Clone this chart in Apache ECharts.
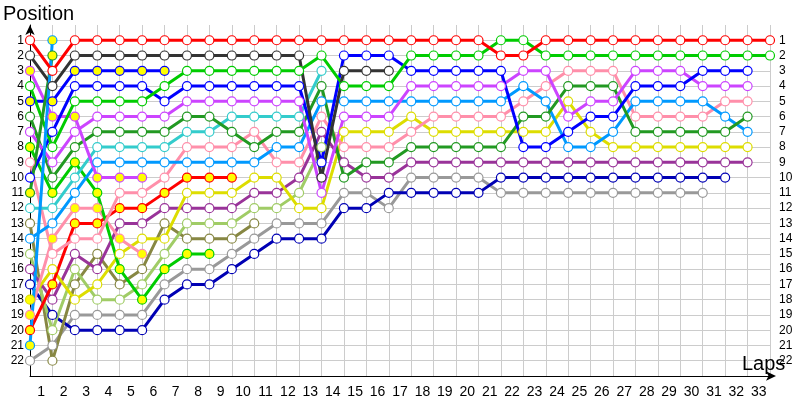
<!DOCTYPE html>
<html><head><meta charset="utf-8">
<script src="https://cdn.jsdelivr.net/npm/echarts@6/dist/echarts.min.js"></script>
<style>html,body{margin:0;padding:0;background:#fff}#c{width:800px;height:400px}</style>
</head><body><div id="c"></div>
<script>
// Tick labels
const lapLabels = ['1','2','3','4','5','6','7','8','9','10','11','12','13','14','15','16','17','18','19','20','21','22','23','24','25','26','27','28','29','30','31','32','33'];
const posLabels = [1,2,3,4,5,6,7,8,9,10,11,12,13,14,15,16,17,18,19,20,21,22];

// Positions per lap, starting at lap 0
const redA       = [1,3,1,1,1,1,1,1,1,1,1,1,1,1,1,1,1,1,1,1,1,2,2,1,1,1,1,1,1,1,1,1,1,1];
const greenA     = [4,8,5,5,5,5,4,3,3,3,3,3,3,2,4,4,4,2,2,2,2,1,1,2,2,2,2,2,2,2,2,2,2,2];
const darkGrayA  = [2,4,2,2,2,2,2,2,2,2,2,2,2,10,3,3,3];
const blueA      = [10,7,4,4,4,4,5,4,4,4,4,4,4,9,2,2,2,3,3,3,3,3,8,8,7,6,6,4,4,4,3,3,3];
const violetA    = [7,9,7,6,6,6,6,5,5,5,5,5,5,11,6,6,6,4,4,4,4,4,3,3,6,5,5,3,3,3,4,4,4];
const darkGreenA = [6,10,8,7,7,7,7,6,6,7,8,7,7,4,10,9,9,8,8,8,8,8,6,6,4,4,4,7,7,7,7,7,6];
const tealA      = [12,12,10,8,8,8,8,7,7,6,6,6,6,3];
const pinkA      = [9,15,14,14,11,11,10,8,8,8,7,9,9,6,8,8,8,7,6,6,6,6,5,4,3,3,3,6,6,6,6,5,5];
const lightBlueA = [14,13,11,9,9,9,9,9,9,9,9,8,8,5,5,5,5,5,5,5,5,5,4,5,8,8,7,5,5,5,5,6,7];
const yellowA    = [18,16,18,17,15,14,14,11,11,11,10,10,12,12,7,7,7,6,7,7,7,7,7,7,5,7,8,8,8,8,8,8,8];
const purpleA    = [16,18,15,16,13,13,12,12,12,12,11,11,10,7,9,10,10,9,9,9,9,9,9,9,9,9,9,9,9,9,9,9,9];
const darkBlueA  = [17,19,20,20,20,20,18,17,17,16,15,14,14,14,12,12,11,11,11,11,11,10,10,10,10,10,10,10,10,10,10,10];
const grayA      = [22,21,19,19,19,19,17,16,16,15,14,13,13,13,11,11,12,10,10,10,10,11,11,11,11,11,11,11,11,11,11];
const oliveA     = [13,22,17,15,17,16,13,14,14,14,13];
const lightGreenA= [15,20,16,18,18,17,15,13,13,13,12,12,11,8];
const greenB     = [8,11,9,11,16,18,16,15,15];
const redB       = [20,17,13,13,12,12,11,10,10,10];
const blueB      = [5,5,3,3,3,3,3];
const violetB    = [3,6,6,10,10,10];
const darkGreenB = [11,2];
const lightBlueB = [21,1];
const pinkB      = [19,14,12,12,14,15];

const drivers = [
  {d: grayA,       c:'#999999', f:'#ffffff'},
  {d: darkBlueA,   c:'#0000b4', f:'#ffffff'},
  {d: oliveA,      c:'#878743', f:'#ffffff'},
  {d: lightGreenA, c:'#a0cc66', f:'#ffffff'},
  {d: purpleA,     c:'#993399', f:'#ffffff'},
  {d: yellowA,     c:'#dddd00', f:'#ffffff', first:'#ffff00'},
  {d: pinkB,       c:'#ff8faa', f:'#ffff00'},
  {d: redB,        c:'#ff0000', f:'#ffff00'},
  {d: greenB,      c:'#00cc00', f:'#ffff00'},
  {d: pinkA,       c:'#ff8faa', f:'#ffffff'},
  {d: lightBlueA,  c:'#0099ff', f:'#ffffff'},
  {d: tealA,       c:'#33cccc', f:'#ffffff'},
  {d: darkGreenA,  c:'#229922', f:'#ffffff'},
  {d: violetB,     c:'#cc44ff', f:'#ffff00'},
  {d: violetA,     c:'#cc44ff', f:'#ffffff'},
  {d: blueB,       c:'#0000ff', f:'#ffff00'},
  {d: blueA,       c:'#0000ff', f:'#ffffff'},
  {d: greenA,      c:'#00cc00', f:'#ffffff'},
  {d: darkGreenB,  c:'#229922', f:'#ffff00'},
  {d: darkGrayA,   c:'#333333', f:'#ffffff'},
  {d: lightBlueB,  c:'#0099ff', f:'#ffff00'},
  {d: redA,        c:'#ff0000', f:'#ffffff'}
];

const FONT = '"Liberation Sans", Arial, sans-serif';
const chart = echarts.init(document.getElementById('c'), null, {renderer:'canvas'});

const series = drivers.map(dr => ({
  type: 'line',
  xAxisIndex: 0, yAxisIndex: 0,
  symbol: 'circle', symbolSize: 9,
  showAllSymbol: true,
  animation: false,
  lineStyle: {color: dr.c, width: 3},
  itemStyle: {color: dr.f, borderColor: dr.c, borderWidth: 1.2},
  emphasis: {disabled: true},
  data: dr.d.map((p, i) => (i === 0 && dr.first)
      ? {value: [i, p], itemStyle: {color: dr.first, borderColor: dr.c}}
      : [i, p])
}));

const splitColors = ['rgba(0,0,0,0)'].concat(posLabels.map(() => '#cccccc'));

chart.setOption({
  animation: false,
  grid: {left: 30, right: 30, top: 25, bottom: 24, containLabel: false},
  xAxis: [
    {type:'value', min:0, max:33, interval:1, position:'bottom',
     axisLine:{show:true, onZero:false, lineStyle:{color:'#000', width:1}, symbol:['none','arrow'], symbolSize:[7,10], symbolOffset:[0,6]},
     axisTick:{show:false}, axisLabel:{show:false},
     splitLine:{show:true, lineStyle:{color:'#cccccc', width:1}}},
    {type:'category', data: lapLabels, boundaryGap:true, position:'bottom',
     axisLine:{show:false, onZero:false}, axisTick:{show:false},
     axisLabel:{show:true, interval:0, margin:9, color:'#000', fontSize:14, fontFamily:FONT},
     splitLine:{show:false}}
  ],
  yAxis: [
    {type:'value', min:0, max:23, interval:1, inverse:true,
     axisLine:{show:true, onZero:false, lineStyle:{color:'#000', width:1}, symbol:['none','arrow'], symbolSize:[7,10]},
     axisTick:{show:false},
     axisLabel:{color:'#000', fontSize:12, fontFamily:FONT, margin:6,
       formatter: v => (v >= 1 && v <= 22) ? String(v) : ''},
     splitLine:{show:true, lineStyle:{color:splitColors, width:1}}},
    {type:'value', min:0, max:23, interval:1, inverse:true, position:'right',
     axisLine:{show:false}, axisTick:{show:false},
     axisLabel:{color:'#000', fontSize:12, fontFamily:FONT, margin:9,
       formatter: v => (v >= 1 && v <= 22) ? String(v) : ''},
     splitLine:{show:false}}
  ],
  graphic: [
    {type:'text', left:3, top:4, z:100, style:{text:'Position', font:'20px ' + FONT, fill:'#000'}},
    {type:'text', left:742, top:354, z:100, style:{text:'Laps', font:'20px ' + FONT, fill:'#000'}}
  ],
  series: series
});
</script>
</body></html>
